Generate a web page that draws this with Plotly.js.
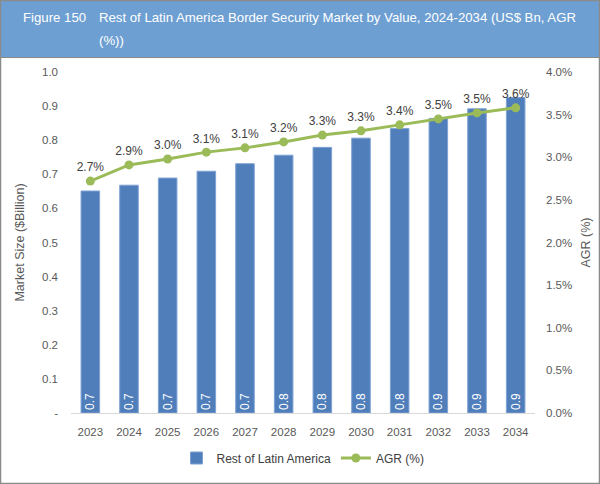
<!DOCTYPE html>
<html>
<head>
<meta charset="utf-8">
<script src="https://cdn.plot.ly/plotly-3.0.1.min.js"></script>
<style>html,body{margin:0;padding:0;background:#fff}#chart{width:600px;height:484px}</style>
</head>
<body>
<div id="chart"></div>
<script>
// ---- data ----
var years = ['2023','2024','2025','2026','2027','2028','2029','2030','2031','2032','2033','2034'];
var marketSize = [0.651, 0.668, 0.689, 0.709, 0.731, 0.756, 0.779, 0.806, 0.834, 0.864, 0.892, 0.925];
var agr = [2.72, 2.91, 2.98, 3.06, 3.11, 3.18, 3.26, 3.31, 3.38, 3.45, 3.52, 3.58];
var leftTickVals = [0, 0.1, 0.2, 0.3, 0.4, 0.5, 0.6, 0.7, 0.8, 0.9, 1.0];
var leftTickText = ['-', '0.1', '0.2', '0.3', '0.4', '0.5', '0.6', '0.7', '0.8', '0.9', '1.0'];
var seriesNames = ['Rest of Latin America', 'AGR (%)'];
var figureLabel = 'Figure 150';
var titleLine1 = 'Rest of Latin America Border Security Market by Value, 2024-2034 (US$ Bn, AGR';
var titleLine2 = '(%))';

var W = 600, H = 484, mL = 71, mR = 65, mT = 72, mB = 71;
var pw = W - mL - mR, ph = H - mT - mB;
function px(x){ return (x - mL) / pw; }
function py(y){ return 1 - (y - mT) / ph; }

var FF = 'Liberation Sans, Arial, sans-serif';
var tickFont = {family: FF, size: 11.5, color: '#595959'};

var bars = {
  type: 'bar', x: years, y: marketSize, name: seriesNames[0],
  marker: {color: '#4F7EBB', line: {color: '#7EA2D3', width: 1}},
  texttemplate: '%{y:.1f}', textposition: 'inside', insidetextanchor: 'start',
  textangle: -90, textfont: {family: FF, size: 12, color: '#ffffff'},
  constraintext: 'none', cliponaxis: false, hoverinfo: 'skip'
};
var line = {
  type: 'scatter', mode: 'lines+markers+text', x: years, y: agr, yaxis: 'y2', name: seriesNames[1],
  line: {color: '#9BBB59', width: 3}, marker: {color: '#9BBB59', size: 9},
  texttemplate: '%{y:.1f}%', textposition: 'top center',
  textfont: {family: FF, size: 12, color: '#404040'},
  cliponaxis: false, hoverinfo: 'skip'
};

var layout = {
  width: W, height: H,
  margin: {l: mL, r: mR, t: mT, b: mB, pad: 0, autoexpand: false},
  paper_bgcolor: '#ffffff', plot_bgcolor: '#ffffff',
  showlegend: true,
  bargap: 0.52,
  uniformtext: {minsize: 12, mode: 'show'},
  legend: {orientation: 'h', x: 0.5, xanchor: 'center', y: py(458), yanchor: 'middle',
           font: {family: FF, size: 12, color: '#404040'},
           traceorder: 'normal', itemwidth: 30},
  xaxis: {type: 'category', range: [-0.5, years.length - 0.5], autorange: false,
          showgrid: false, zeroline: false, showline: true, linecolor: '#d9d9d9', linewidth: 1,
          ticks: '', tickfont: tickFont, ticklabelstandoff: 8, automargin: false},
  yaxis: {range: [0, 1.0], tickvals: leftTickVals, ticktext: leftTickText, showgrid: false, zeroline: false,
          showline: false, ticks: '', tickfont: tickFont, ticklabelstandoff: 12, automargin: false,
          title: {text: 'Market Size ($Billion)', font: {family: FF, size: 12.5, color: '#595959'}, standoff: 14}},
  yaxis2: {range: [0, 4.0], dtick: 0.5, tickformat: '.1f', ticksuffix: '%', overlaying: 'y', side: 'right',
           showgrid: false, zeroline: false, showline: false, ticks: '', tickfont: tickFont, ticklabelstandoff: 10,
           automargin: false,
           title: {text: 'AGR (%)', font: {family: FF, size: 12.5, color: '#595959'}, standoff: 10}},
  shapes: [
    {type: 'rect', xref: 'paper', yref: 'paper', x0: px(0), x1: px(W), y0: py(57), y1: py(0),
     fillcolor: '#6E9FD2', line: {width: 0}, layer: 'below'},
    {type: 'line', xref: 'paper', yref: 'paper', x0: px(0), x1: px(W), y0: py(57.5), y1: py(57.5),
     line: {color: '#8a8a8a', width: 1}},
    {type: 'rect', xref: 'paper', yref: 'paper', x0: px(0.5), x1: px(W - 0.5), y0: py(H - 0.5), y1: py(0.5),
     line: {color: '#8a8a8a', width: 1.5}, fillcolor: 'rgba(0,0,0,0)'}
  ],
  annotations: [
    {xref: 'paper', yref: 'paper', x: px(21), y: py(18), xanchor: 'left', yanchor: 'middle', showarrow: false,
     text: figureLabel, font: {family: FF, size: 13.2, color: '#ffffff'}},
    {xref: 'paper', yref: 'paper', x: px(97), y: py(18), xanchor: 'left', yanchor: 'middle', showarrow: false,
     text: titleLine1, font: {family: FF, size: 13.2, color: '#ffffff'}},
    {xref: 'paper', yref: 'paper', x: px(97), y: py(40), xanchor: 'left', yanchor: 'middle', showarrow: false,
     text: titleLine2, font: {family: FF, size: 13.2, color: '#ffffff'}}
  ]
};

Plotly.newPlot('chart', [bars, line], layout, {displayModeBar: false, staticPlot: true});
</script>
</body>
</html>
